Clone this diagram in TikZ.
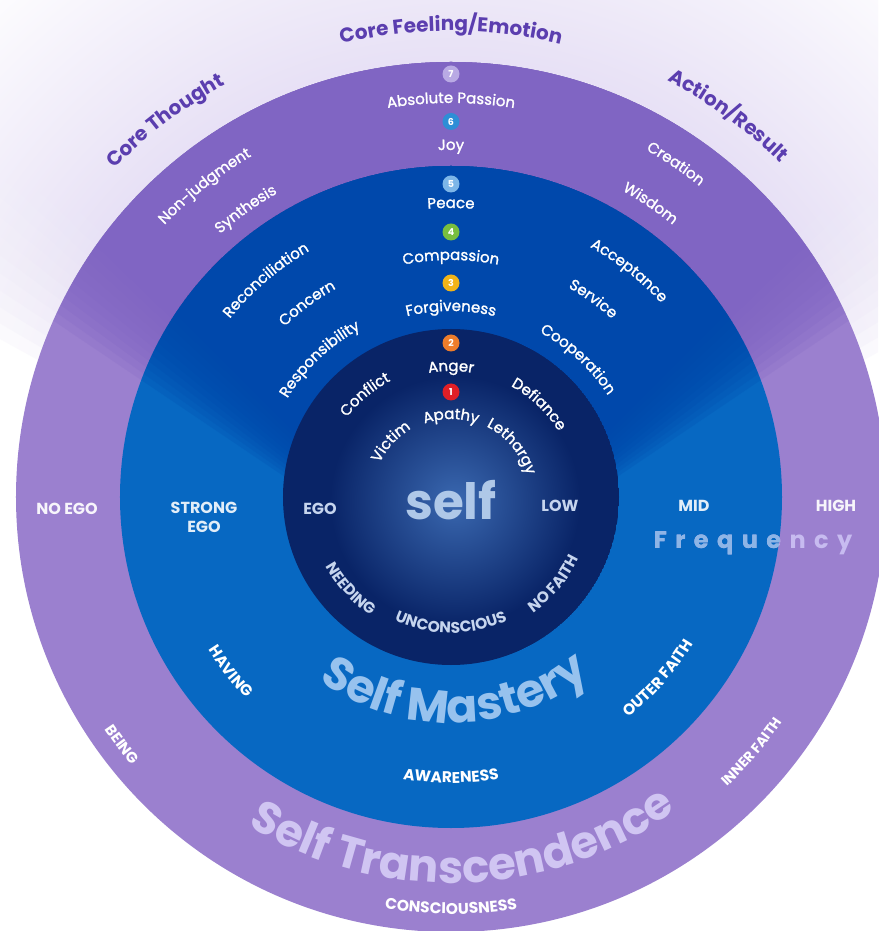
\documentclass[tikz,border=0pt]{standalone}
\usepackage{fontspec}
\setmainfont{Poppins}
\newfontfamily\popmed{Poppins}[FakeBold=1.4]
\usetikzlibrary{decorations.text}
\definecolor{bglav}{HTML}{E6DFF5}
\definecolor{purL}{HTML}{9B80CF}
\definecolor{purD}{HTML}{8065C3}
\definecolor{bluL}{HTML}{0768C2}
\definecolor{bluD}{HTML}{0048AB}
\definecolor{navyc}{HTML}{092467}
\definecolor{glowc}{HTML}{3A68B0}
\definecolor{headc}{HTML}{5B3EAF}
\definecolor{selfc}{HTML}{AFC8E8}
\definecolor{masteryc}{HTML}{97C2EE}
\definecolor{transc}{HTML}{D0C5F2}
\definecolor{paleblue}{HTML}{C6D5EE}
\definecolor{freqb}{HTML}{8DB5E6}
\definecolor{freqp}{HTML}{C7BBF0}
\definecolor{dotA}{HTML}{B9AAE4}
\definecolor{dotB}{HTML}{2E8ED6}
\definecolor{dotC}{HTML}{7DB6E8}
\definecolor{dotD}{HTML}{78BE3F}
\definecolor{dotE}{HTML}{F2B418}
\definecolor{dotF}{HTML}{EE7D2B}
\definecolor{dotG}{HTML}{E11F26}
\pgfdeclareradialshading{bgglow}{\pgfpointorigin}{color(0bp)=(bglav); color(15bp)=(bglav); color(25bp)=(white); color(50bp)=(white)}
\newcommand\fs[1]{\fontsize{#1}{#1}\selectfont}
% radius, angle, font, colour, text
\newcommand\toparc[5]{\path[decorate,decoration={text along path,text align=center,text color=#4,text={|#3|#5}}] (#2+80:#1) arc[start angle=#2+80,end angle=#2-80,radius=#1];}
\newcommand\botarc[5]{\path[decorate,decoration={text along path,text align=center,text color=#4,text={|#3|#5}}] (#2-80:#1) arc[start angle=#2-80,end angle=#2+80,radius=#1];}
\newcommand\lab{\popmed\fs{15}}
\newcommand\capl{\bfseries\fs{15.5}}
\tikzset{
  dot/.style={circle, inner sep=0pt, minimum size=17pt, font=\bfseries\fs{9.5}, text=white},
  flat/.style={font=\bfseries\fs{16}},
}
\begin{document}
\begin{tikzpicture}[x=1pt,y=1pt]
\useasboundingbox (-451,-434) rectangle (427,497);
\fill[white] (-451,-434) rectangle (427,497);
% background glow beam
\begin{scope}
 \clip (-451,-434) rectangle (427,497);
 \foreach \d in {0,...,14}{
  \begin{scope}
   \clip[shift={(0,-92)}] (0,0) -- (50-1.5*\d:1500) -- (90:1500) -- (130+1.5*\d:1500) -- cycle;
   \shade[shading=bgglow, opacity=0.18] (0,0) circle (700);
  \end{scope}}
\end{scope}
% outer ring
\fill[purL] (0,0) circle (435);
\begin{scope}
 \clip (0,0) circle (435);
 \foreach \d in {0,...,14}{
   \fill[purD, fill opacity=0.2, shift={(0,-92)}] (0,0) -- (48-\d:1500) -- (90:1500) -- (132+\d:1500) -- cycle;}
\end{scope}
% blue ring
\fill[bluL] (0,0) circle (331);
\begin{scope}
 \clip (0,0) circle (331);
 \foreach \d in {0,...,14}{
   \fill[bluD, fill opacity=0.2, shift={(0,-92)}] (0,0) -- (48-\d:1500) -- (90:1500) -- (132+\d:1500) -- cycle;}
\end{scope}
% inner circle
\begin{scope}
 \clip (0,0) circle (168);
 \fill[navyc] (0,0) circle (168);
 \shade[inner color=glowc, outer color=navyc] (4,-4) circle (125);
\end{scope}

% headers
\toparc{470}{127.2}{\bfseries\fs{20}}{headc}{Core Thought}
\toparc{466}{90}{\bfseries\fs{20}}{headc}{Core Feeling/Emotion}
\toparc{469}{54}{\bfseries\fs{20}}{headc}{Action/Result}

% purple ring labels
\toparc{395}{128.4}{\lab}{white}{Non-judgment}
\toparc{350}{125.5}{\lab}{white}{Synthesis}
\toparc{394}{90}{\lab}{white}{Absolute Passion}
\toparc{347}{90}{\lab}{white}{Joy}
\toparc{398}{56}{\lab}{white}{Creation}
\toparc{351}{55.8}{\lab}{white}{Wisdom}
% blue ring labels
\toparc{284}{130.5}{\lab}{white}{Reconciliation}
\toparc{238}{126.6}{\lab}{white}{Concern}
\toparc{191}{133.6}{\lab}{white}{Responsibility}
\toparc{289}{90}{\lab}{white}{Peace}
\toparc{237}{90}{\lab}{white}{Compassion}
\toparc{186}{90}{\lab}{white}{Forgiveness}
\toparc{286}{51.8}{\lab}{white}{Acceptance}
\toparc{240}{54.3}{\lab}{white}{Service}
\toparc{187}{47.3}{\lab}{white}{Cooperation}
% inner labels
\toparc{131}{130}{\lab}{white}{Conflict}
\toparc{79}{137.4}{\lab}{white}{Victim}
\toparc{126}{90}{\lab}{white}{Anger}
\toparc{78}{90}{\lab}{white}{Apathy}
\toparc{126}{46.5}{\lab}{white}{Defiance}
\toparc{79}{39.7}{\lab}{white}{Lethargy}

% numbered dots
\node[dot, fill=dotA] (d7) at (0,423) {7};
\node[dot, fill=dotB] (d6) at (0,375.5) {6};
\node[dot, fill=dotC] (d5) at (0,313) {5};
\node[dot, fill=dotD] (d4) at (0,265) {4};
\node[dot, fill=dotE] (d3) at (0,214) {3};
\node[dot, fill=dotF] (d2) at (0,154) {2};
\node[dot, fill=dotG] (d1) at (0,105) {1};

% bottom arcs
\botarc{143}{222.6}{\capl}{paleblue}{NEEDING}
\botarc{136}{270}{\capl}{paleblue}{UNCONSCIOUS}
\botarc{142}{319.8}{\capl}{paleblue}{NO FAITH}
\botarc{287}{218.4}{\capl}{white}{HAVING}
\botarc{283}{318.8}{\capl}{white}{OUTER FAITH}
\botarc{286}{270}{\capl}{white}{AWARENESS}
\botarc{226}{271}{\bfseries\fs{46}}{masteryc}{Self Mastery}
\botarc{417}{217}{\bfseries\fs{15}}{white}{BEING}
\botarc{400}{319.7}{\bfseries\fs{14}}{white}{INNER FAITH}
\botarc{417}{270}{\capl}{white}{CONSCIOUSNESS}
\botarc{386}{272}{\bfseries\fs{45}}{transc}{Self Transcendence}

% horizontal labels
\node[flat, text=white!92!purL] (noego) at (-384,-12) {NO EGO};
\node[flat, text=white!88!bluL, align=center, font=\bfseries\fontsize{16}{19}\selectfont] (strong) at (-247,-20) {STRONG\\EGO};
\node[flat, text=paleblue] (ego) at (-131,-12) {EGO};
\node[flat, text=paleblue] (low) at (109,-9) {LOW};
\node[flat, text=white!88!bluL] (mid) at (243,-9) {MID};
\node[flat, text=white!92!purL] (high) at (385,-9) {HIGH};
\node[font=\bfseries\fs{50}, text=selfc] (self) at (0,-3) {self};
\node[font=\bfseries\fs{24}\addfontfeature{LetterSpace=35}, text=freqp] (freq) at (302,-46) {Frequency};
\begin{scope}
 \clip (0,0) circle (331);
 \node[font=\bfseries\fs{24}\addfontfeature{LetterSpace=35}, text=freqb] (freqin) at (302,-46) {Frequency};
\end{scope}
\end{tikzpicture}
\end{document}
